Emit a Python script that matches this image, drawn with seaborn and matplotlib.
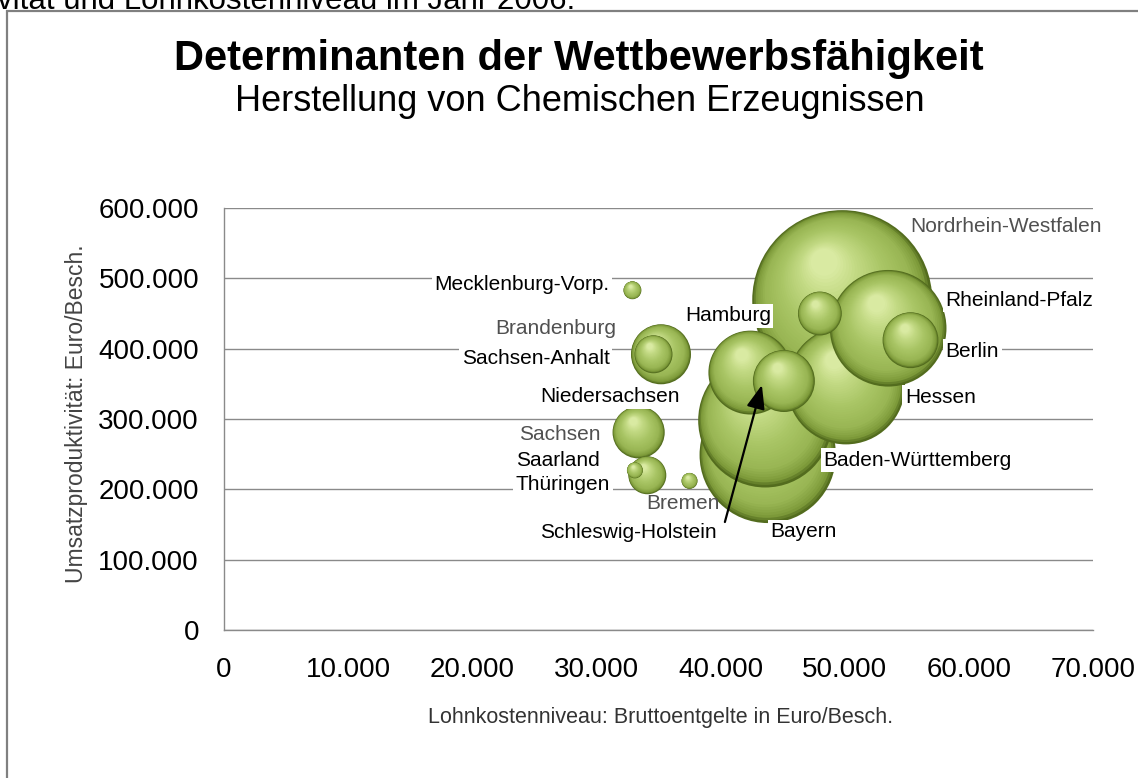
import numpy as np
import pandas as pd
import seaborn as sns
import matplotlib
matplotlib.use("Agg")
import matplotlib.pyplot as plt
from matplotlib import transforms
from matplotlib.colors import LinearSegmentedColormap
from matplotlib.ticker import FuncFormatter
from matplotlib.patches import Rectangle

# ---------------- data ----------------
laender = ["Nordrhein-Westfalen", "Bayern", "Baden-Württemberg", "Hessen", "Rheinland-Pfalz",
           "Niedersachsen", "Schleswig-Holstein", "Brandenburg", "Berlin", "Sachsen",
           "Hamburg", "Sachsen-Anhalt", "Thüringen", "Mecklenburg-Vorp.", "Saarland", "Bremen"]
lohnkosten = [49800, 43800, 43600, 50100, 53500,
              42400, 45100, 35200, 55300, 33400,
              48000, 34600, 34100, 32900, 33100, 37500]
produktivitaet = [469000, 249000, 298000, 348000, 429000,
                  366000, 354000, 392000, 412000, 281000,
                  450000, 392000, 220000, 483000, 227000, 212000]
beschaeftigte = [81.0, 46.5, 45.0, 35.0, 34.0,
                 17.6, 9.6, 9.0, 7.8, 6.8,
                 4.8, 3.6, 3.6, 0.8, 0.64, 0.64]

x_ticks = [0, 10000, 20000, 30000, 40000, 50000, 60000, 70000]
y_ticks = [0, 100000, 200000, 300000, 400000, 500000, 600000]

titel = "Determinanten der Wettbewerbsfähigkeit"
untertitel = "Herstellung von Chemischen Erzeugnissen"
kopfzeile = "Umsatzproduktivität und Lohnkostenniveau im Jahr 2006."
x_label = "Lohnkostenniveau: Bruttoentgelte in Euro/Besch."
y_label = "Umsatzproduktivität: Euro/Besch."

df = pd.DataFrame({"land": laender, "lohn": lohnkosten,
                   "prod": produktivitaet, "besch": beschaeftigte})
df = df.sort_values("besch", ascending=False).reset_index(drop=True)

# ---------------- style ----------------
sns.set_style("white")
plt.rcParams["font.family"] = ["Liberation Sans", "DejaVu Sans"]

W, H, DPI = 1138, 778, 100
fig = plt.figure(figsize=(W / DPI, H / DPI), dpi=DPI)
fig.patch.set_facecolor("white")
ax = fig.add_axes([224 / W, 1 - 630 / H, (1093 - 224) / W, (630 - 208) / H])
ax.set_facecolor("none")

ax.set_xlim(0, 70000)
ax.set_ylim(0, 600000)
fmt = FuncFormatter(lambda v, p: f"{int(round(v)):,}".replace(",", "."))
ax.xaxis.set_major_formatter(fmt)
ax.yaxis.set_major_formatter(fmt)
ax.set_xticks(x_ticks)
ax.set_yticks(y_ticks)

ax.grid(axis="y", color="#8a8a8a", lw=1.0, zorder=0)
ax.set_axisbelow(True)
for s in ["top", "right"]:
    ax.spines[s].set_visible(False)
for s in ["left", "bottom"]:
    ax.spines[s].set_color("#8a8a8a")
    ax.spines[s].set_linewidth(1.0)
ax.tick_params(axis="x", direction="inout", length=7, width=1, color="#8a8a8a",
               labelsize=20, pad=16, labelcolor="black")
ax.tick_params(axis="y", direction="out", length=3, width=1, color="#8a8a8a",
               labelsize=20, pad=15, labelcolor="black")

ax.set_xlabel(x_label, fontsize=15.5, color="#333333")
ax.set_ylabel(y_label, fontsize=16.5, color="#444444")
ax.xaxis.label.set_verticalalignment("center")
ax.yaxis.label.set_verticalalignment("center")
ax.xaxis.set_label_coords(0.502, -0.2085)
ax.yaxis.set_label_coords(-0.170, 0.512)

# ---------------- bubbles (3D shaded spheres) ----------------
px2pt = 72 / DPI
K = (2 * 10 * px2pt) ** 2          # marker area per unit of bubble size (points^2)
cmap = LinearSegmentedColormap.from_list(
    "sphere",
    [(0.0, "#536c1e"), (0.06, "#7d9a3a"), (0.2, "#98b553"), (0.5, "#aac666"),
     (0.8, "#c3da84"), (1.0, "#d9eaa2")])
n_layers = 34
for i, row in df.iterrows():
    area = K * row["besch"]
    R = np.sqrt(area) / 2.0                       # radius in points
    base_z = 3 + i
    sub = df.iloc[[i]]
    sns.scatterplot(data=sub, x="lohn", y="prod", s=area, color=cmap(0.0),
                    edgecolor="none", linewidth=0, ax=ax, zorder=base_z, legend=False)
    for j in range(1, n_layers):
        t = j / (n_layers - 1)
        r = R * (1 - 0.85 * t)
        dx, dy = -0.2 * t * R, 0.42 * t * R
        tr = transforms.offset_copy(ax.transData, fig=fig, x=dx, y=dy, units="points")
        ax.scatter(row["lohn"], row["prod"], s=(2 * r) ** 2, color=cmap(t),
                   edgecolor="none", linewidth=0, transform=tr,
                   zorder=base_z + 0.9 * t)

# ---------------- labels ----------------
# offsets in pixels (dx right, dy up) from bubble centre, alignment, grey label?
label_style = {
    "Nordrhein-Westfalen": (68, 74, "left", True),
    "Baden-Württemberg": (58, -40, "left", False),
    "Bayern": (36, -77, "center", False),
    "Rheinland-Pfalz": (57, 28, "left", False),
    "Hessen": (59, -12, "left", False),
    "Niedersachsen": (-71, -24, "right", False),
    "Brandenburg": (-45, 26, "right", True),
    "Berlin": (35, -11, "left", False),
    "Sachsen": (-38, -2, "right", True),
    "Hamburg": (-49, -2, "right", False),
    "Sachsen-Anhalt": (-44, -4, "right", False),
    "Thüringen": (-37, -9, "right", False),
    "Mecklenburg-Vorp.": (-23, 6, "right", False),
    "Saarland": (-35, 10, "right", False),
    "Bremen": (-7, -23, "center", True),
    "Schleswig-Holstein": (-67, -151, "right", False),
}
for _, row in df.iterrows():
    dx, dy, ha, grey = label_style[row["land"]]
    kw = dict(fontsize=15, ha=ha, va="center", zorder=200,
              xytext=(dx * px2pt, dy * px2pt), textcoords="offset points")
    if grey:
        kw.update(color="#505050")
    else:
        kw.update(color="black",
                  bbox=dict(boxstyle="square,pad=0.12", fc="white", ec="none"))
    ax.annotate(row["land"], xy=(row["lohn"], row["prod"]), **kw)

# arrow to Schleswig-Holstein
sh = df[df["land"] == "Schleswig-Holstein"].iloc[0]
tip_tr = transforms.offset_copy(ax.transData, fig=fig, x=-22 * px2pt, y=-4 * px2pt,
                                units="points")
ax.annotate("", xy=(sh["lohn"], sh["prod"]), xycoords=tip_tr,
            xytext=(-37 * px2pt, -137 * px2pt), textcoords="offset points",
            arrowprops=dict(arrowstyle="-|>,head_length=0.9,head_width=0.35",
                            mutation_scale=16, lw=1.6, color="black",
                            shrinkA=0, shrinkB=0),
            zorder=150)

# ---------------- titles, frame ----------------
fig.text(579 / W, 1 - 70 / H, titel, fontsize=30, fontweight="bold",
         ha="center", va="baseline", color="black")
fig.text(580 / W, 1 - 111 / H, untertitel, fontsize=26, ha="center",
         va="baseline", color="black")
fig.text(575 / W, 1 - 9 / H, kopfzeile, fontsize=22.5, ha="right",
         va="baseline", color="black")
fig.add_artist(Rectangle((7 / W, -0.2), 1.3, 1.2 - 11 / H, transform=fig.transFigure,
                         fill=False, ec="#808080", lw=1.6, zorder=0))

fig.savefig("out.png", dpi=DPI, facecolor="white")
